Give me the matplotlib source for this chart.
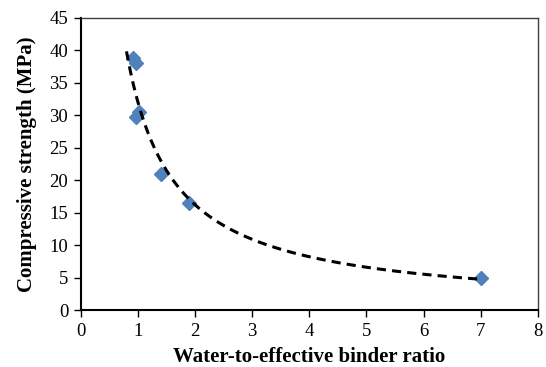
import numpy as np
import matplotlib
matplotlib.use("Agg")
import matplotlib.pyplot as plt

# data
wb_ratio = [0.92, 0.96, 1.01, 0.96, 1.41, 1.90, 7.00]
strength = [38.8, 38.0, 30.5, 29.7, 21.0, 16.5, 4.9]

# power trendline y = a*x^b
b, ln_a = np.polyfit(np.log(wb_ratio), np.log(strength), 1)
xf = np.linspace(0.8, 7.0, 200)
yf = np.exp(ln_a) * xf ** b

plt.rcParams['font.family'] = ['Liberation Serif', 'DejaVu Serif']

fig = plt.figure(figsize=(5.46, 3.67), dpi=100)
ax = fig.add_axes([0.148, 0.155, 0.837, 0.796])

ax.plot(xf, yf, color='black', ls=(0, (3, 2)), lw=2.2, zorder=3)
ax.plot(wb_ratio, strength, ls='none', marker='D', ms=7, color='#4F81BD', zorder=2)

ax.set_xlim(0, 8)
ax.set_ylim(0, 45)
ax.set_xticks(range(0, 9))
ax.set_yticks(range(0, 46, 5))
ax.tick_params(direction='out', length=5, width=1, labelsize=13.5, colors='black', pad=4)

for s in ['left', 'bottom']:
    ax.spines[s].set_linewidth(1.5)
    ax.spines[s].set_color('black')
for s in ['top', 'right']:
    ax.spines[s].set_linewidth(1.0)
    ax.spines[s].set_color('#404040')

ax.set_xlabel('Water-to-effective binder ratio', fontsize=15, fontweight='bold', labelpad=5)
ax.set_ylabel('Compressive strength (MPa)', fontsize=15, fontweight='bold', labelpad=9)

fig.savefig('out.png', dpi=100)
